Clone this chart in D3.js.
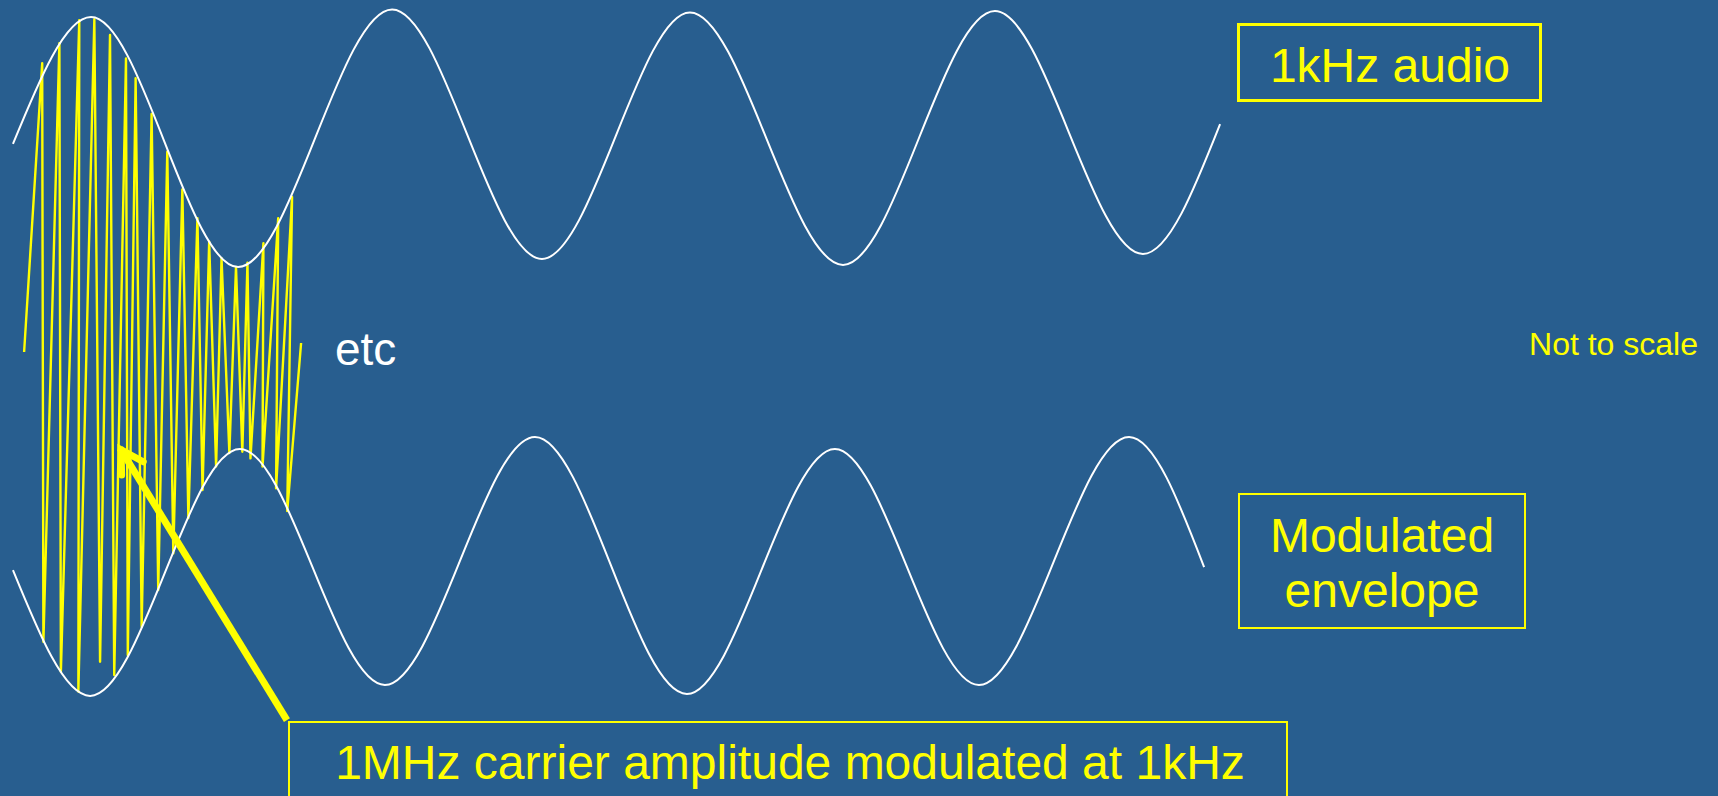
<!DOCTYPE html>
<html>
<head>
<meta charset="utf-8">
<script src="https://cdn.jsdelivr.net/npm/d3@7"></script>
<style>
  html, body { margin: 0; padding: 0; background: #285E8F; overflow: hidden; }
  svg { display: block; }
  text { font-family: "Liberation Sans", Arial, sans-serif; }
</style>
</head>
<body>
<svg id="chart" width="1718" height="796"></svg>
<script>
// ---- data (time in ms, amplitude in units of carrier amplitude) ----
// 1 kHz audio (shown riding on the carrier amplitude: upper envelope)
const audioT = [0.043, 0.302, 0.790, 1.301, 1.798, 2.289, 2.797, 3.301, 3.792, 4.048];
const audioV = [0.972, 1.565, 0.397, 1.601, 0.435, 1.587, 0.407, 1.593, 0.458, 1.065];

// mirrored modulated envelope (lower)
const envT = [0.043, 0.299, 0.796, 1.277, 1.775, 2.279, 2.770, 3.248, 3.746, 3.995];
const envV = [-1.019, -1.607, -0.453, -1.556, -0.397, -1.598, -0.453, -1.556, -0.397, -1.005];

// 1 MHz carrier (not to scale) sketched between the envelopes
const carrierT = [0.080, 0.140, 0.144, 0.197, 0.202, 0.263, 0.260, 0.313, 0.332, 0.365,
                  0.379, 0.418, 0.424, 0.450, 0.470, 0.503, 0.525, 0.555, 0.575, 0.605,
                  0.625, 0.655, 0.672, 0.694, 0.717, 0.735, 0.761, 0.783, 0.804, 0.821,
                  0.831, 0.874, 0.871, 0.923, 0.916, 0.969, 0.953, 0.999];
const carrierV = [0.000, 1.349, -1.354, 1.443, -1.494, 1.551, -1.587, 1.555, -1.447, 1.481,
                  -1.509, 1.372, -1.416, 1.279, -1.284, 1.112, -1.112, 0.936, -0.941, 0.760,
                  -0.776, 0.625, -0.645, 0.516, -0.535, 0.438, -0.472, 0.397, -0.466, 0.417,
                  -0.497, 0.508, -0.535, 0.625, -0.637, 0.724, -0.743, 0.042];

// annotation arrow (tail at label box, head inside carrier)
const arrowFrom = [0.952, -1.720];
const arrowTo   = [0.398, -0.449];

// labels
const labelAudio = "1kHz audio";
const labelEnvelope = ["Modulated", "envelope"];
const labelCarrier = "1MHz carrier amplitude modulated at 1kHz";
const labelEtc = "etc";
const labelScale = "Not to scale";

// ---- drawing ----
const W = 1718, H = 796;
const svg = d3.select("#chart");
svg.append("rect").attr("width", W).attr("height", H).attr("fill", "#285E8F");

const x = d3.scaleLinear().domain([0, 5.7]).range([0, W]);
const y = d3.scaleLinear().domain([-1, 1]).range([566, 138]);

const smooth = d3.line().x(d => x(d[0])).y(d => y(d[1])).curve(d3.curveMonotoneX);
const straight = d3.line().x(d => x(d[0])).y(d => y(d[1]));

// carrier
svg.append("path")
  .datum(d3.zip(carrierT, carrierV))
  .attr("d", straight)
  .attr("fill", "none")
  .attr("stroke", "#FFFF00")
  .attr("stroke-width", 2.4)
  .attr("stroke-linejoin", "round");

// audio / envelopes
[[audioT, audioV], [envT, envV]].forEach(([t, v]) => {
  svg.append("path")
    .datum(d3.zip(t, v))
    .attr("d", smooth)
    .attr("fill", "none")
    .attr("stroke", "#FFFFFF")
    .attr("stroke-width", 2);
});

// arrow
const ax0 = x(arrowFrom[0]), ay0 = y(arrowFrom[1]);
const ax1 = x(arrowTo[0]), ay1 = y(arrowTo[1]);
svg.append("line")
  .attr("x1", ax0).attr("y1", ay0).attr("x2", ax1).attr("y2", ay1)
  .attr("stroke", "#FFFF00").attr("stroke-width", 7);
{
  const dx = ax0 - ax1, dy = ay0 - ay1, len = Math.hypot(dx, dy);
  const ux = dx / len, uy = dy / len;
  const L = 27, a = 28 * Math.PI / 180;
  const rot = (s) => [ux * Math.cos(s) - uy * Math.sin(s), ux * Math.sin(s) + uy * Math.cos(s)];
  const r1 = rot(a), r2 = rot(-a);
  const p = d3.path();
  p.moveTo(ax1 + L * r1[0], ay1 + L * r1[1]);
  p.lineTo(ax1 + 2 * ux, ay1 + 2 * uy);
  p.lineTo(ax1 + L * r2[0], ay1 + L * r2[1]);
  svg.append("path").attr("d", p.toString())
    .attr("fill", "none").attr("stroke", "#FFFF00").attr("stroke-width", 7)
    .attr("stroke-linejoin", "miter").attr("stroke-linecap", "round");
}

// label boxes
svg.append("rect").attr("x", 1238.5).attr("y", 24.5).attr("width", 302).attr("height", 76)
  .attr("fill", "none").attr("stroke", "#FFFF00").attr("stroke-width", 3);
svg.append("text").attr("x", 1390).attr("y", 82).attr("text-anchor", "middle")
  .attr("font-size", 48).attr("fill", "#FFFF00").text(labelAudio);

svg.append("rect").attr("x", 1239).attr("y", 494).attr("width", 286).attr("height", 134)
  .attr("fill", "none").attr("stroke", "#FFFF00").attr("stroke-width", 2);
const envText = svg.append("text").attr("text-anchor", "middle")
  .attr("font-size", 48).attr("fill", "#FFFF00");
labelEnvelope.forEach((s, i) => {
  envText.append("tspan").attr("x", 1382).attr("y", 552 + i * 55).text(s);
});

svg.append("rect").attr("x", 289).attr("y", 722).attr("width", 998).attr("height", 120)
  .attr("fill", "none").attr("stroke", "#FFFF00").attr("stroke-width", 2);
svg.append("text").attr("x", 790).attr("y", 779).attr("text-anchor", "middle")
  .attr("font-size", 48).attr("fill", "#FFFF00").text(labelCarrier);

svg.append("text").attr("x", 335).attr("y", 365)
  .attr("font-size", 46).attr("fill", "#FFFFFF").text(labelEtc);

svg.append("text").attr("x", 1698).attr("y", 355).attr("text-anchor", "end")
  .attr("font-size", 32).attr("fill", "#FFFF00").text(labelScale);
</script>
</body>
</html>
